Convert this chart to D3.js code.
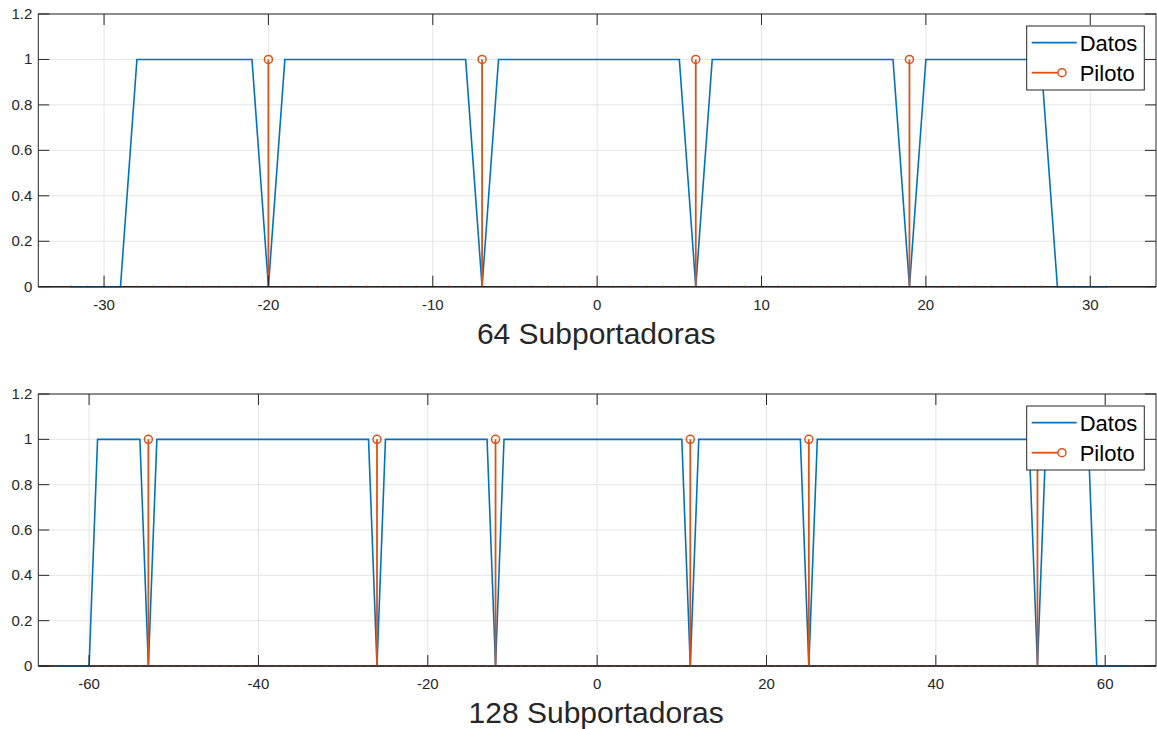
<!DOCTYPE html>
<html>
<head>
<meta charset="utf-8">
<script src="https://cdn.jsdelivr.net/npm/d3@7"></script>
<style>
  body { margin: 0; background: #fff; }
  svg { display: block; }
  text { font-family: "Liberation Sans", Arial, sans-serif; fill: #262626; }
</style>
</head>
<body>
<div id="chart"></div>
<script>
// --- Data: subcarrier occupancy for both OFDM configurations ---
const k64 = d3.range(-32, 32);
const datos64 = [
  0, 0, 0, 0,
  1, 1, 1, 1, 1, 1, 1, 1,
  0,
  1, 1, 1, 1, 1, 1, 1, 1, 1, 1, 1, 1,
  0,
  1, 1, 1, 1, 1, 1, 1, 1, 1, 1, 1, 1,
  0,
  1, 1, 1, 1, 1, 1, 1, 1, 1, 1, 1, 1,
  0,
  1, 1, 1, 1, 1, 1, 1, 1,
  0, 0, 0, 0
];
const pilotos64 = [-20, -7, 6, 19];

const k128 = d3.range(-64, 64);
const datos128 = [
  0, 0, 0, 0, 0,
  1, 1, 1, 1, 1, 1,
  0,
  1, 1, 1, 1, 1, 1, 1, 1, 1, 1, 1, 1, 1, 1, 1, 1, 1, 1, 1, 1, 1, 1, 1, 1, 1, 1,
  0,
  1, 1, 1, 1, 1, 1, 1, 1, 1, 1, 1, 1, 1,
  0,
  1, 1, 1, 1, 1, 1, 1, 1, 1, 1, 1, 1, 1, 1, 1, 1, 1, 1, 1, 1, 1, 1,
  0,
  1, 1, 1, 1, 1, 1, 1, 1, 1, 1, 1, 1, 1,
  0,
  1, 1, 1, 1, 1, 1, 1, 1, 1, 1, 1, 1, 1, 1, 1, 1, 1, 1, 1, 1, 1, 1, 1, 1, 1, 1,
  0,
  1, 1, 1, 1, 1, 1,
  0, 0, 0, 0, 0
];
const pilotos128 = [-53, -26, -12, 11, 25, 52];

const yTicks = [0, 0.2, 0.4, 0.6, 0.8, 1, 1.2];

const panels = [
  { k: k64, datos: datos64, pilotos: pilotos64, xDomain: [-34, 34], xTicks: [-30, -20, -10, 0, 10, 20, 30], title: "64 Subportadoras", top: 14, bottom: 286.7 },
  { k: k128, datos: datos128, pilotos: pilotos128, xDomain: [-66, 66], xTicks: [-60, -40, -20, 0, 20, 40, 60], title: "128 Subportadoras", top: 394, bottom: 666 }
];

const W = 1157, H = 729;
const left = 38.3, right = 1156;
const blue = "#0072BD", orange = "#D95319", axisColor = "#262626", gridColor = "#e5e5e5";
const tickLen = 11;

const svg = d3.select("#chart").append("svg")
  .attr("width", W)
  .attr("height", H);

panels.forEach((p, i) => {
  const x = d3.scaleLinear().domain(p.xDomain).range([left, right]);
  const y = d3.scaleLinear().domain([0, 1.2]).range([p.bottom, p.top]);

  const g = svg.append("g");

  // clip a little past the bottom so the baseline keeps its full width
  const clipId = "clip" + i;
  svg.append("clipPath").attr("id", clipId)
    .append("rect")
    .attr("x", left).attr("y", p.top)
    .attr("width", right - left).attr("height", p.bottom - p.top + 3);

  // grid
  g.append("g").selectAll("line")
    .data(p.xTicks)
    .join("line")
    .attr("x1", d => x(d)).attr("x2", d => x(d))
    .attr("y1", p.top).attr("y2", p.bottom)
    .attr("stroke", gridColor).attr("stroke-width", 1);
  g.append("g").selectAll("line")
    .data(yTicks)
    .join("line")
    .attr("x1", left).attr("x2", right)
    .attr("y1", d => y(d)).attr("y2", d => y(d))
    .attr("stroke", gridColor).attr("stroke-width", 1);

  const plot = g.append("g").attr("clip-path", `url(#${clipId})`);

  // stem baseline
  plot.append("line")
    .attr("x1", left).attr("x2", right)
    .attr("y1", y(0)).attr("y2", y(0))
    .attr("stroke", "#1a1a1a").attr("stroke-width", 1.5);

  // zero-valued pilot stems sitting on the baseline
  plot.append("g").selectAll("rect")
    .data(p.k.filter(d => !p.pilotos.includes(d)))
    .join("rect")
    .attr("x", d => x(d) - 1).attr("y", y(0) - 1)
    .attr("width", 2).attr("height", 2)
    .attr("fill", orange).attr("opacity", 0.75);

  // Datos
  const line = d3.line()
    .x((d, j) => x(p.k[j]))
    .y(d => y(d));
  plot.append("path")
    .datum(p.datos)
    .attr("d", line)
    .attr("fill", "none")
    .attr("stroke", blue)
    .attr("stroke-width", 1.6);

  // Piloto stems
  const stems = plot.append("g").selectAll("g")
    .data(p.pilotos)
    .join("g");
  stems.append("line")
    .attr("x1", d => x(d)).attr("x2", d => x(d))
    .attr("y1", y(0)).attr("y2", y(1))
    .attr("stroke", orange).attr("stroke-width", 1.8);
  stems.append("circle")
    .attr("cx", d => x(d)).attr("cy", y(1))
    .attr("r", 4)
    .attr("fill", "none")
    .attr("stroke", orange).attr("stroke-width", 1.5);

  // axes box with inward ticks on all four sides
  const axes = g.append("g");
  axes.append("rect")
    .attr("x", left).attr("y", p.top)
    .attr("width", right - left).attr("height", p.bottom - p.top)
    .attr("fill", "none").attr("stroke", axisColor).attr("stroke-width", 1);

  p.xTicks.forEach(t => {
    axes.append("line")
      .attr("x1", x(t)).attr("x2", x(t))
      .attr("y1", p.bottom).attr("y2", p.bottom - tickLen)
      .attr("stroke", axisColor);
    axes.append("line")
      .attr("x1", x(t)).attr("x2", x(t))
      .attr("y1", p.top).attr("y2", p.top + tickLen)
      .attr("stroke", axisColor);
  });
  yTicks.forEach(t => {
    axes.append("line")
      .attr("x1", left).attr("x2", left + tickLen)
      .attr("y1", y(t)).attr("y2", y(t))
      .attr("stroke", axisColor);
    axes.append("line")
      .attr("x1", right).attr("x2", right - tickLen)
      .attr("y1", y(t)).attr("y2", y(t))
      .attr("stroke", axisColor);
  });

  // tick labels
  axes.append("g").selectAll("text")
    .data(p.xTicks)
    .join("text")
    .attr("x", d => x(d))
    .attr("y", p.bottom + 23)
    .attr("text-anchor", "middle")
    .attr("font-size", 15)
    .text(d => String(d));
  axes.append("g").selectAll("text")
    .data(yTicks)
    .join("text")
    .attr("x", left - 6)
    .attr("y", d => y(d) + 5)
    .attr("text-anchor", "end")
    .attr("font-size", 15)
    .text(d => String(d));

  // title under the axis
  g.append("text")
    .attr("x", (left + right) / 2 - 1)
    .attr("y", p.bottom + 57)
    .attr("text-anchor", "middle")
    .attr("font-size", 30)
    .text(p.title);

  // legend
  const lg = g.append("g").attr("transform", `translate(1026.7,${p.top + 12})`);
  lg.append("rect")
    .attr("width", 117.6).attr("height", 64)
    .attr("fill", "#fff")
    .attr("stroke", axisColor).attr("stroke-width", 1);
  lg.append("line")
    .attr("x1", 5).attr("x2", 50)
    .attr("y1", 16.7).attr("y2", 16.7)
    .attr("stroke", blue).attr("stroke-width", 1.8);
  lg.append("text")
    .attr("x", 53).attr("y", 24.5)
    .attr("font-size", 22)
    .style("fill", "#000")
    .text("Datos");
  lg.append("line")
    .attr("x1", 5).attr("x2", 35)
    .attr("y1", 46.7).attr("y2", 46.7)
    .attr("stroke", orange).attr("stroke-width", 1.8);
  lg.append("circle")
    .attr("cx", 35.3).attr("cy", 46.7).attr("r", 4)
    .attr("fill", "#fff")
    .attr("stroke", orange).attr("stroke-width", 1.5);
  lg.append("text")
    .attr("x", 53).attr("y", 54.5)
    .attr("font-size", 22)
    .style("fill", "#000")
    .text("Piloto");
});
</script>
</body>
</html>
